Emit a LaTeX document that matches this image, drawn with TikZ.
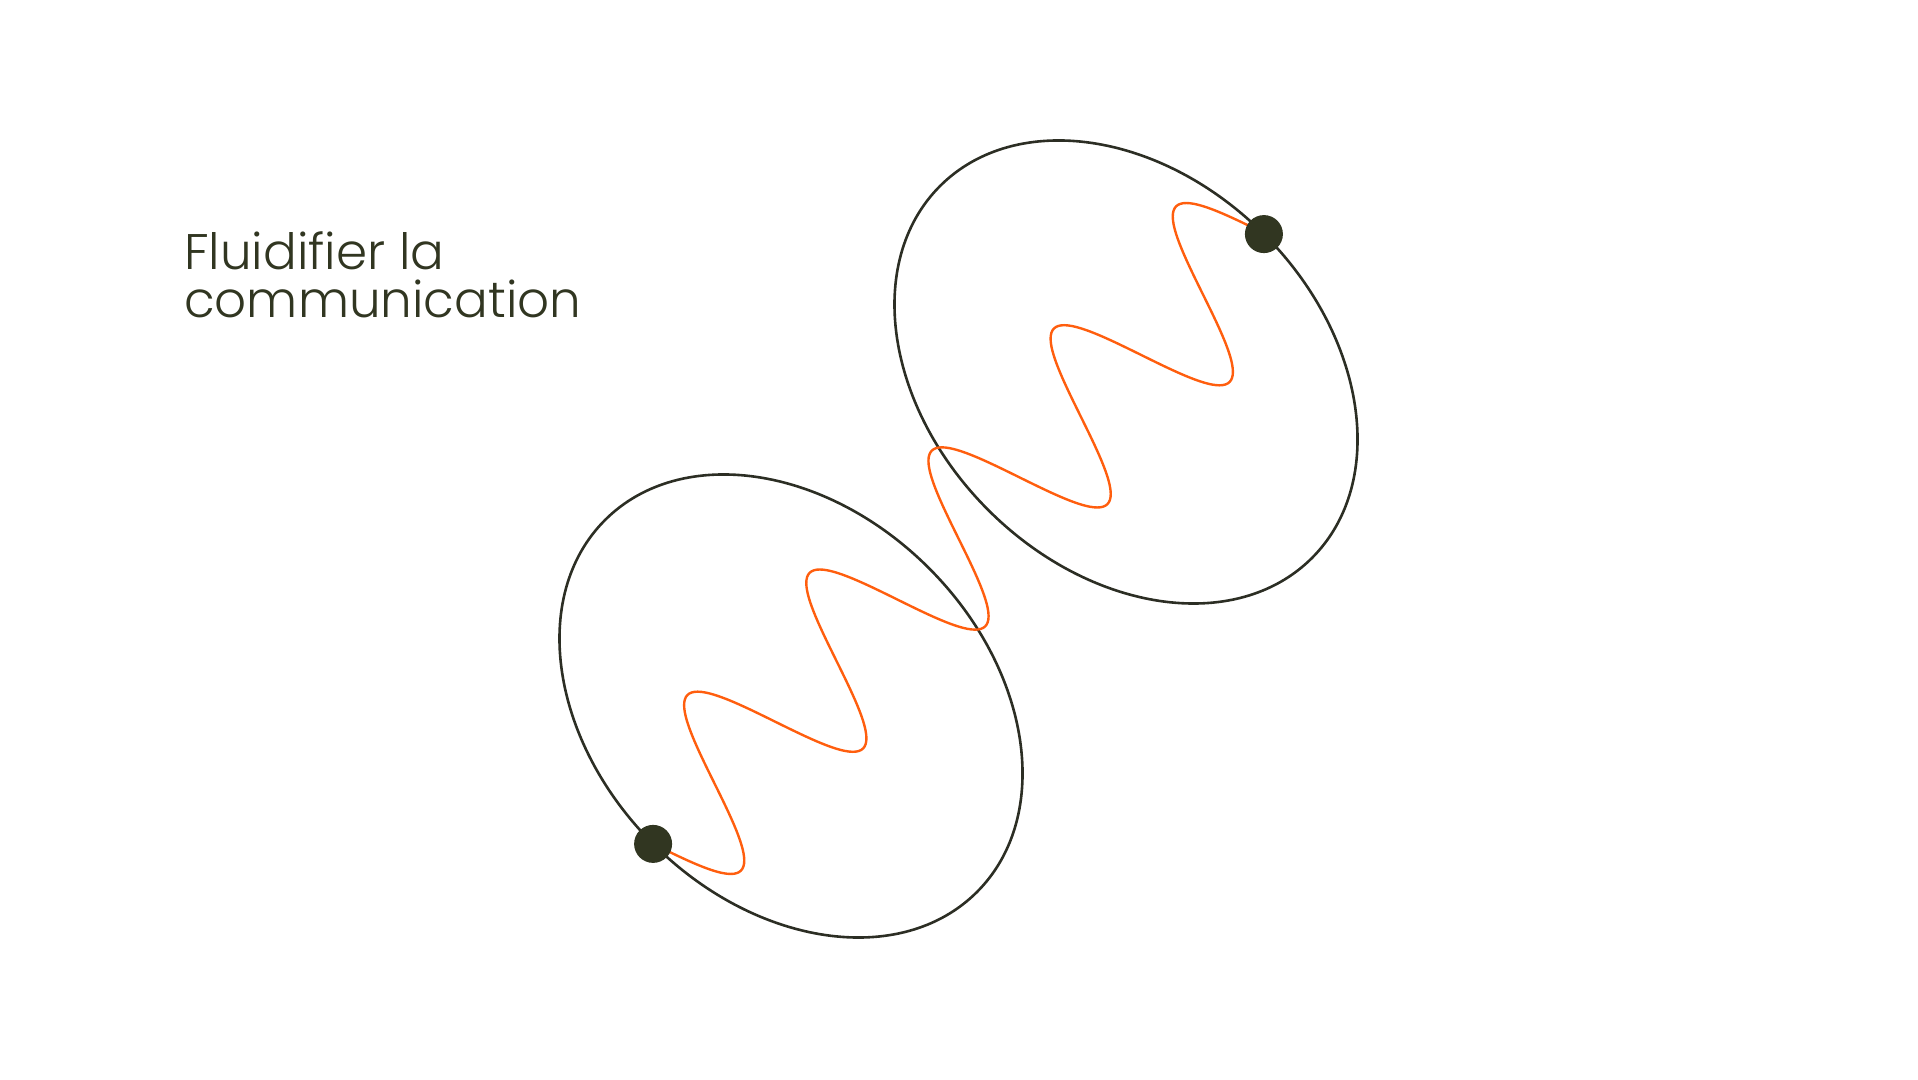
\documentclass[tikz,border=0pt]{standalone}
\usepackage{fontspec}
\setmainfont{Poppins}[UprightFont=* Light]
\usetikzlibrary{positioning}
\definecolor{olive}{RGB}{49,54,33}
\definecolor{inkline}{RGB}{44,46,36}
\definecolor{flame}{RGB}{255,94,14}

\begin{document}
\begin{tikzpicture}[x=1pt, y=1pt,
  ring/.style={draw=inkline, line width=2.6pt},
  wave/.style={draw=flame, line width=2.4pt},
  dot/.style={circle, fill=olive, minimum size=38pt, inner sep=0pt},
  title/.style={anchor=base west, text=olive, inner sep=0pt, font=\fontsize{50}{55}\selectfont}]
\useasboundingbox (0,0) rectangle (1918,1079);
\coordinate (upper) at (1126,707);
\coordinate (lower) at (791,373);
\coordinate (wavestart) at ([shift={(-137.9,-137.9)}]lower);
\coordinate (waveend) at ([shift={(137.9,137.9)}]upper);
\draw[ring, rotate around={-45:(upper)}] (upper) ellipse [x radius=263pt, y radius=195pt];
\draw[ring, rotate around={-45:(lower)}] (lower) ellipse [x radius=263pt, y radius=195pt];
\begin{scope}[shift={(wavestart)}, rotate=45]
\draw[wave] plot[domain=0:863.8, samples=361, smooth] (\x,{-81*sin(2.08382*\x)});
\end{scope}
\node[dot] (start) at (wavestart) {};
\node[dot] (end) at (waveend) {};
\node[title] (line1) at (184,809) {Fluidifier la};
\node[title] (line2) at ([yshift=-48pt]line1.base west) {communication};
\end{tikzpicture}
\end{document}
